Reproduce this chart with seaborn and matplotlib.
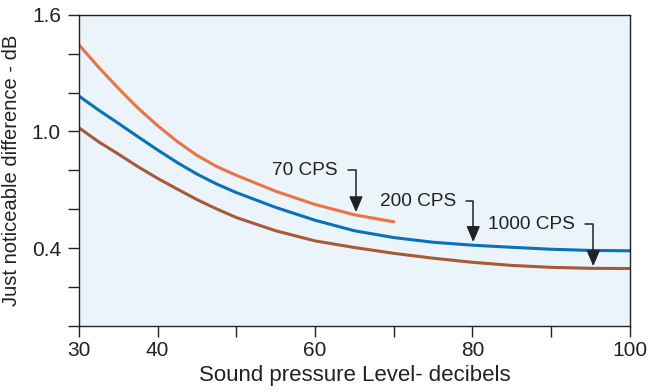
import seaborn as sns
import pandas as pd
import matplotlib.pyplot as plt

sns.set_theme(style="white")
plt.rcParams['font.family'] = ['Liberation Sans', 'DejaVu Sans']

# sound pressure level (dB) and just noticeable difference (dB)
spl_70 = [30, 32.5, 35, 37.5, 40, 42.5, 45, 47.5, 50, 55, 60, 65, 70]
jnd_70 = [1.445, 1.33, 1.222, 1.12, 1.03, 0.948, 0.877, 0.82, 0.775, 0.693, 0.625, 0.572, 0.536]

spl = [30, 32.5, 35, 37.5, 40, 42.5, 45, 47.5, 50, 55, 60, 65, 70, 75, 80, 85, 90, 95, 100]
jnd_200 = [1.182, 1.11, 1.042, 0.973, 0.905, 0.84, 0.781, 0.73, 0.686, 0.61, 0.544,
           0.49, 0.455, 0.431, 0.416, 0.405, 0.395, 0.389, 0.387]
jnd_1000 = [1.019, 0.947, 0.884, 0.819, 0.759, 0.704, 0.65, 0.602, 0.558, 0.49, 0.438,
            0.404, 0.374, 0.349, 0.328, 0.312, 0.302, 0.297, 0.296]

labels = ["70 CPS", "200 CPS", "1000 CPS"]
colors = ["#EC7344", "#0A72B8", "#A85A34"]
x_ticks = [30, 40, 50, 60, 70, 80, 90, 100]
x_labels = ["30", "40", "", "60", "", "80", "", "100"]
y_ticks = [0.0, 0.2, 0.4, 0.6, 0.8, 1.0, 1.2, 1.4, 1.6]
y_labels = ["", "", "0.4", "", "", "1.0", "", "", "1.6"]

rows = []
for lab, xs, vals in zip(labels, [spl_70, spl, spl], [jnd_70, jnd_200, jnd_1000]):
    for x, y in zip(xs, vals):
        rows.append([x, y, lab])
df = pd.DataFrame(rows, columns=["SPL", "JND", "Freq"])

fig = plt.figure(figsize=(6.5, 3.92), dpi=100)
ax = fig.add_axes([0.1215, 0.168, 0.8475, 0.7945])
ax.set_facecolor("#EAF4FA")

sns.lineplot(data=df, x="SPL", y="JND", hue="Freq", palette=colors,
             linewidth=2.2, legend=False, ax=ax)

ax.set_xlim(30, 100)
ax.set_ylim(0, 1.6)
ax.set_xticks(x_ticks)
ax.set_xticklabels(x_labels)
ax.set_yticks(y_ticks)
ax.set_yticklabels(y_labels)
ax.tick_params(direction="out", length=8, width=1, color="#222222",
               labelsize=15, labelcolor="#222222")
ax.tick_params(axis="x", bottom=True, pad=3)
ax.tick_params(axis="y", left=True, pad=5)
for s in ax.spines.values():
    s.set_color("#222222")
    s.set_linewidth(1)

ax.set_xlabel("Sound pressure Level- decibels", fontsize=16, color="#222222", labelpad=3)
ax.set_ylabel("Just noticeable difference - dB", fontsize=14.5, color="#222222", labelpad=8)

# callouts: text anchor, arrow tip
notes = [("70 CPS", 62.9, 0.80, 65.2, 0.585),
         ("200 CPS", 77.9, 0.642, 80.1, 0.432),
         ("1000 CPS", 93.0, 0.524, 95.35, 0.308)]
for txt, tx, ty, px, py in notes:
    ax.annotate(txt, xy=(px, py), xytext=(tx, ty), ha="right", va="center",
                fontsize=13.7, color="#222222",
                arrowprops=dict(arrowstyle="-|>,head_length=0.7,head_width=0.3",
                                connectionstyle="angle,angleA=0,angleB=90,rad=0",
                                relpos=(1, 0.5), shrinkA=5, shrinkB=0,
                                color="#222222", lw=1.1))

fig.savefig("out.png", dpi=100)
